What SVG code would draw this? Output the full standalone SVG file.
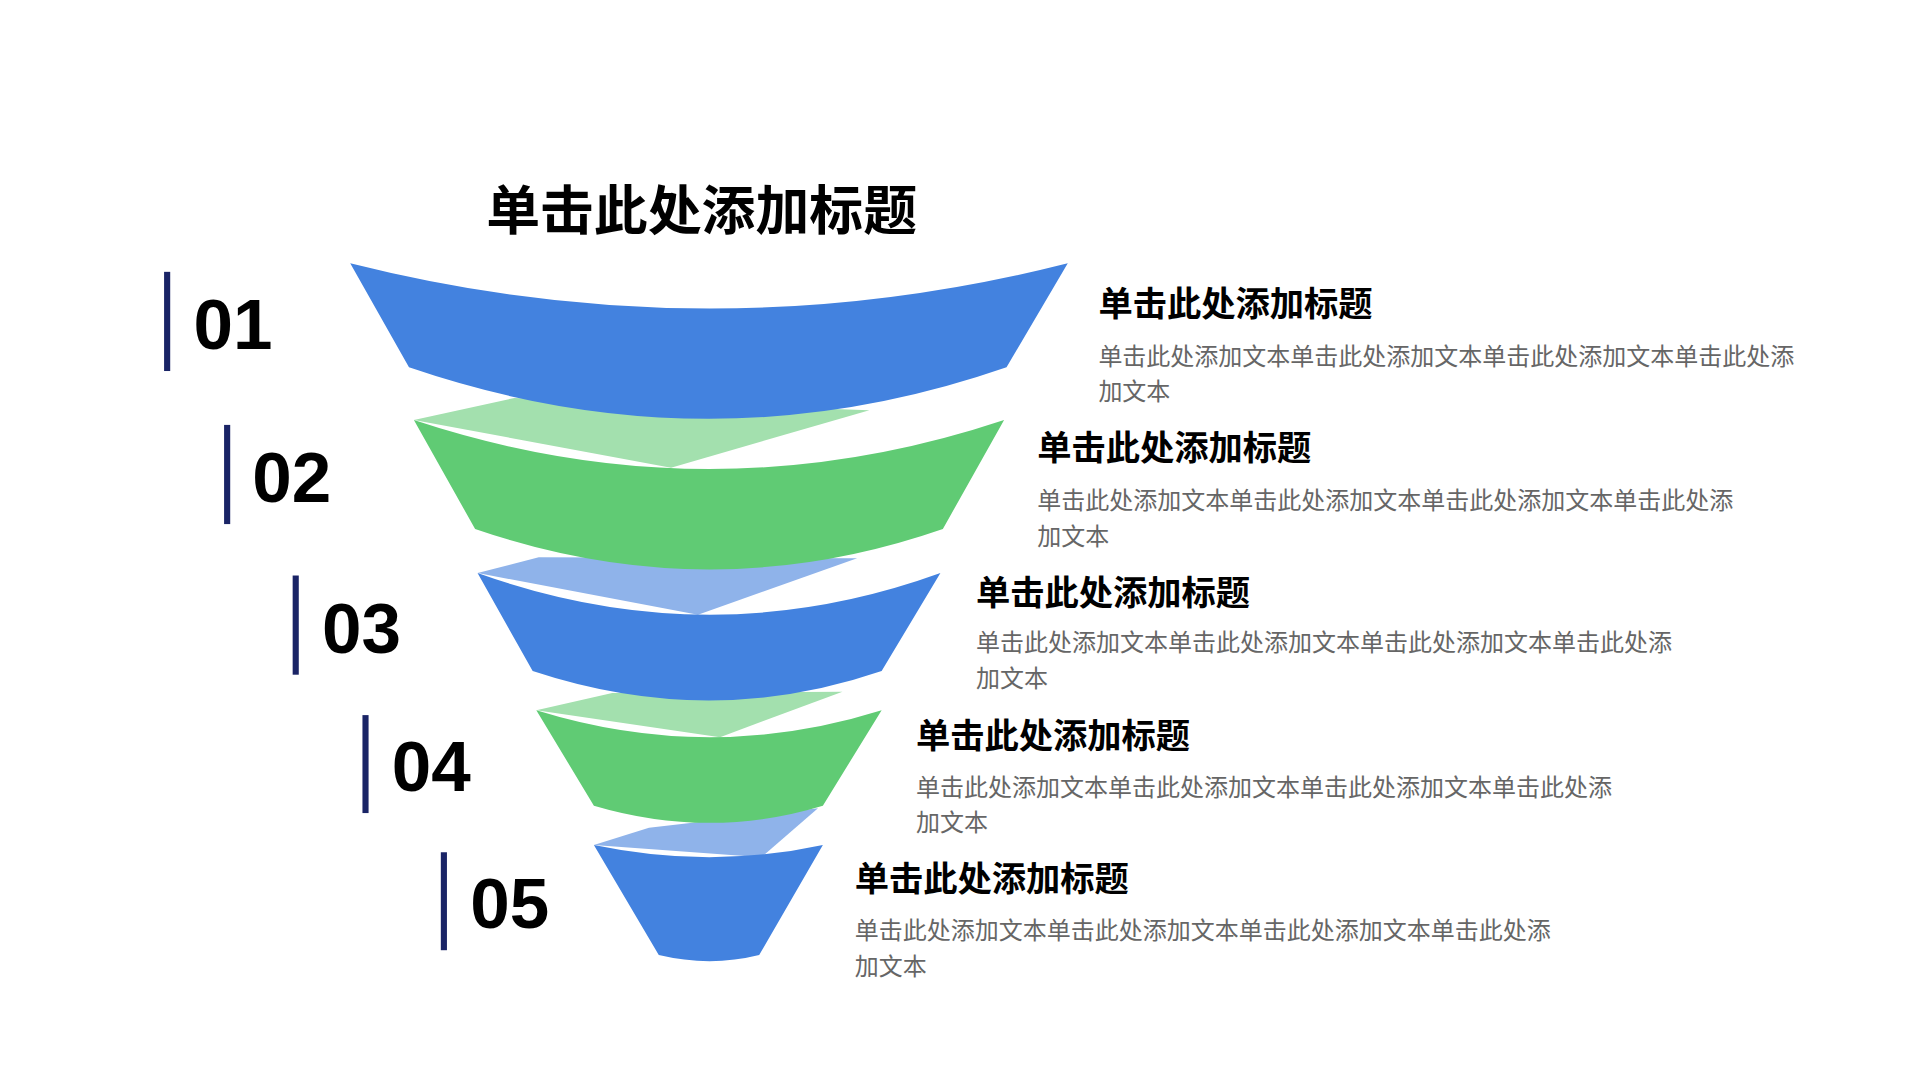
<svg xmlns="http://www.w3.org/2000/svg" width="1920" height="1080" viewBox="0 0 1920 1080">
<style>
.t{font-family:"Liberation Sans","Noto Sans CJK SC",sans-serif;font-weight:bold;fill:#000}
.b{font-family:"Liberation Sans","Noto Sans CJK SC",sans-serif;fill:#666;font-size:19.6px}
.n{font-family:"Liberation Sans",sans-serif;font-weight:bold;font-size:58px;fill:#000}
.bar{fill:#1a2466}
.blue{fill:#4382df}.lblue{fill:#8fb3ea}.green{fill:#60cb74}.lgreen{fill:#a3e0ae}
</style>
<rect width="1920" height="1080" fill="#fff"/>
<g transform="scale(1.2245)">
<text class="t" x="397" y="188" font-size="44">单击此处添加标题</text>
<g id="layer5"><path class="lblue" d="M485,690 L530,676 L668,660 L622,700 Z"/><path class="blue" d="M485,690 Q580,710 672,690 L620,780 Q580,790 538,780 Z"/></g>
<g id="layer4"><path class="lgreen" d="M438,580 L500,566 L688,565 L588,602 Z"/><path class="green" d="M438,580 Q580,624 720,580 L672,658 Q580,686 485,658 Z"/></g>
<g id="layer3"><path class="lblue" d="M390,468 L440,455 L700,456 L570,502 Z"/><path class="blue" d="M390,468 Q580,536 768,468 L720,548 Q580,596 435,548 Z"/></g>
<g id="layer2"><path class="lgreen" d="M338,343 L420,325 L710,335 L548,382 Z"/><path class="green" d="M338,343 Q580,423 820,343 L770,432 Q580,498 388,432 Z"/></g>
<g id="layer1"><path class="blue" d="M286,215 Q580,289 872,215 L822,300 Q580,384 334,300 Z"/></g>
<g id="item1"><rect class="bar" x="134" y="222" width="5" height="81"/><text class="n" x="158" y="285">01</text>
<text class="t" x="897" y="258" font-size="28">单击此处添加标题</text><text class="b" x="897" y="298">单击此处添加文本单击此处添加文本单击此处添加文本单击此处添</text><text class="b" x="897" y="327">加文本</text></g>
<g id="item2"><rect class="bar" x="183" y="347" width="5" height="81"/><text class="n" x="206" y="410">02</text>
<text class="t" x="847" y="376" font-size="28">单击此处添加标题</text><text class="b" x="847" y="416">单击此处添加文本单击此处添加文本单击此处添加文本单击此处添</text><text class="b" x="847" y="445">加文本</text></g>
<g id="item3"><rect class="bar" x="239" y="470" width="5" height="81"/><text class="n" x="263" y="533">03</text>
<text class="t" x="797" y="494" font-size="28">单击此处添加标题</text><text class="b" x="797" y="532">单击此处添加文本单击此处添加文本单击此处添加文本单击此处添</text><text class="b" x="797" y="561">加文本</text></g>
<g id="item4"><rect class="bar" x="296" y="584" width="5" height="80"/><text class="n" x="320" y="646">04</text>
<text class="t" x="748" y="611" font-size="28">单击此处添加标题</text><text class="b" x="748" y="650">单击此处添加文本单击此处添加文本单击此处添加文本单击此处添</text><text class="b" x="748" y="679">加文本</text></g>
<g id="item5"><rect class="bar" x="360" y="696" width="5" height="80"/><text class="n" x="384" y="758">05</text>
<text class="t" x="698" y="728" font-size="28">单击此处添加标题</text><text class="b" x="698" y="767">单击此处添加文本单击此处添加文本单击此处添加文本单击此处添</text><text class="b" x="698" y="796">加文本</text></g>
</g>
</svg>
